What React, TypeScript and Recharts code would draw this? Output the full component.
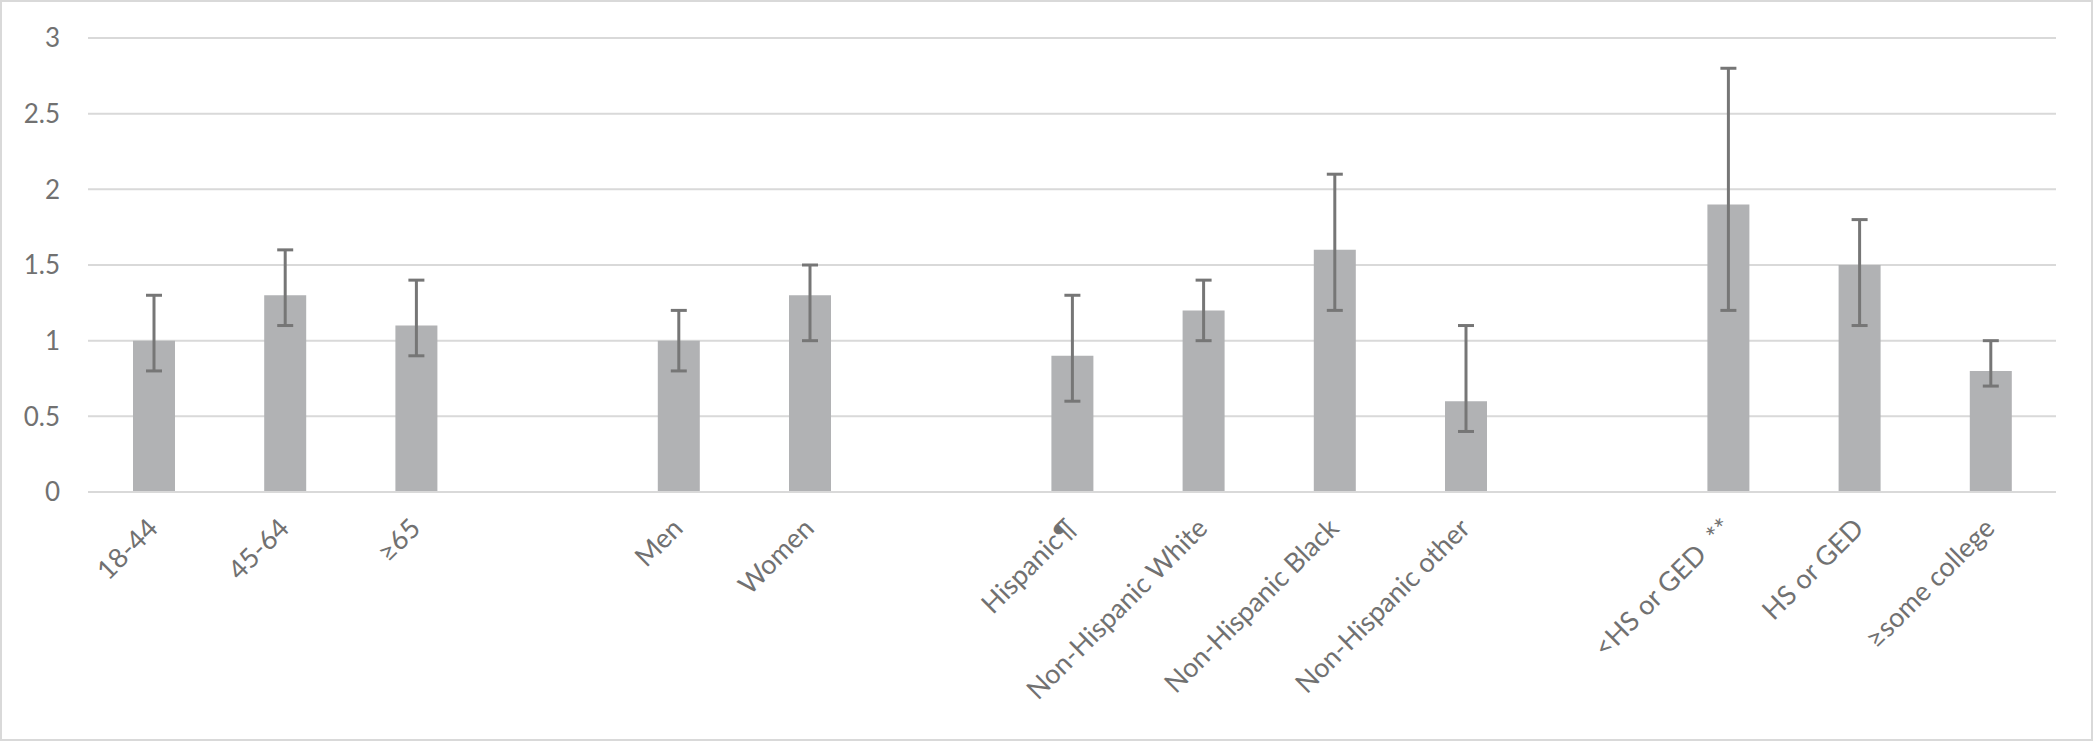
import React from 'react';
import { BarChart, Bar, XAxis, YAxis, CartesianGrid, ErrorBar } from 'recharts';

const labels = ['18-44', '45-64', '≥65', '', 'Men', 'Women', '', 'Hispanic¶', 'Non-Hispanic White', 'Non-Hispanic Black', 'Non-Hispanic other', '', '<HS or GED  **', 'HS or GED', '≥some college'];
const values = [1.0, 1.3, 1.1, null, 1.0, 1.3, null, 0.9, 1.2, 1.6, 0.6, null, 1.9, 1.5, 0.8];
const lower = [0.8, 1.1, 0.9, null, 0.8, 1.0, null, 0.6, 1.0, 1.2, 0.4, null, 1.2, 1.1, 0.7];
const upper = [1.3, 1.6, 1.4, null, 1.2, 1.5, null, 1.3, 1.4, 2.1, 1.1, null, 2.8, 1.8, 1.0];
const yTicks = [0, 0.5, 1, 1.5, 2, 2.5, 3];

const data = labels.map((label, i) => {
  const v = values[i];
  const lo = lower[i];
  const hi = upper[i];
  return {
    key: 'c' + i,
    label,
    value: v,
    err: v != null && lo != null && hi != null ? [v - lo, hi - v] : undefined,
  };
});

const FONT = 'Lato, "Open Sans", sans-serif';
const TEXT = '#717171';

const XTick = (props: any) => {
  const { x, y, index } = props;
  const label = labels[index] || '';
  const ax = x + 6;
  const ay = y + 30;
  return (
    <text
      x={ax}
      y={ay}
      textAnchor="end"
      fill={TEXT}
      fontFamily={FONT}
      fontSize={27}
      transform={`rotate(-45, ${ax}, ${ay})`}
      style={{ whiteSpace: 'pre' }}
    >
      {label}
    </text>
  );
};

export default function App() {
  return (
    <div
      style={{
        position: 'absolute',
        left: 0,
        top: 0,
        width: 2093,
        height: 741,
        background: '#fff',
        border: '2px solid #d9d9d9',
        boxSizing: 'border-box',
      }}
    >
      <div style={{ position: 'absolute', left: -2, top: -2 }}>
        <BarChart
          width={2093}
          height={741}
          data={data}
          margin={{ top: 38, right: 37, left: 0, bottom: 0 }}
          barCategoryGap={0}
        >
          <CartesianGrid vertical={false} stroke="#d9d9d9" strokeWidth={2} />
          <XAxis
            dataKey="key"
            axisLine={{ stroke: '#d9d9d9', strokeWidth: 2 }}
            tickLine={false}
            interval={0}
            height={249}
            tick={<XTick />}
          />
          <YAxis
            domain={[0, 3]}
            ticks={yTicks}
            width={88}
            axisLine={false}
            tickLine={false}
            tickMargin={22}
            tick={{ fill: TEXT, fontFamily: FONT, fontSize: 26 }}
          />
          <Bar dataKey="value" fill="#b1b2b4" barSize={42} isAnimationActive={false}>
            <ErrorBar dataKey="err" width={8} stroke="#767676" strokeWidth={3} direction="y" />
          </Bar>
        </BarChart>
      </div>
    </div>
  );
}
